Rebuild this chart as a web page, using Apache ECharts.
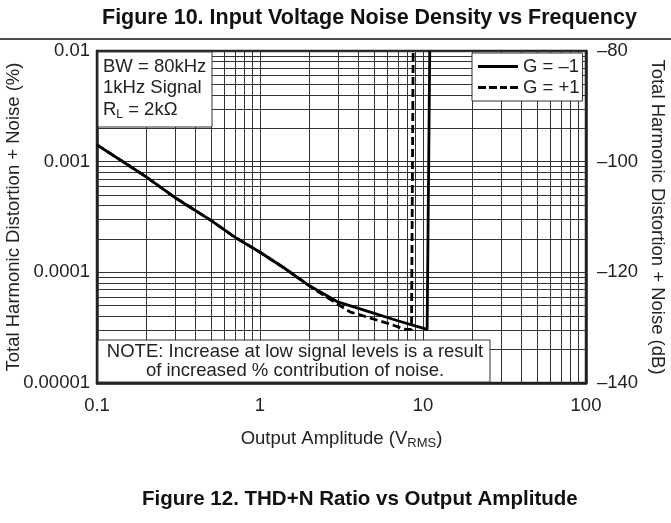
<!DOCTYPE html>
<html><head><meta charset="utf-8">
<script src="https://cdn.jsdelivr.net/npm/echarts@6/dist/echarts.min.js"></script>
<style>html,body{margin:0;padding:0;background:#fff}#c{width:671px;height:523px}</style>
</head><body><div id="c"></div>
<script>
// ---- data ----
const xTickLabels = ['0.1', '1', '10', '100'];
const yTickLabels = ['0.00001', '0.0001', '0.001', '0.01'];
const dbTicks = [-140, -120, -100, -80];
const solidX = [0.1, 0.2, 0.3, 0.5, 0.7, 1, 1.4, 2, 2.5, 3.0, 4.7, 7, 10.6, 11.0];
const solidY = [1.42e-3, 7.3e-4, 4.75e-4, 2.95e-4, 2.08e-4, 1.52e-4, 1.1e-4, 7.6e-5, 6.3e-5, 5.4e-5, 4.4e-5, 3.65e-5, 3.05e-5, 1e-2];
const dashX = [0.1, 0.2, 0.3, 0.5, 0.7, 1, 1.4, 2, 2.3, 3.56, 6.3, 7.8, 8.5, 8.7];
const dashY = [1.42e-3, 7.3e-4, 4.75e-4, 2.95e-4, 2.08e-4, 1.52e-4, 1.1e-4, 7.6e-5, 6.6e-5, 4.4e-5, 3.4e-5, 3.05e-5, 3.05e-5, 1e-2];
const gridX = [0.2,0.3,0.4,0.5,0.6,0.7,0.8,0.9, 2,3,4,5,6,7,8,9, 20,30,40,50,60,70,80,90];
const gridY = [2e-5,3e-5,4e-5,5e-5,6e-5,7e-5,8e-5,9e-5, 2e-4,3e-4,4e-4,5e-4,6e-4,7e-4,8e-4,9e-4, 2e-3,3e-3,4e-3,5e-3,6e-3,7e-3,8e-3,9e-3];
const seriesNames = ['G = \u20131', 'G = +1'];

const FONT = 'Liberation Sans, Arial, sans-serif';
const FS = 18.5;
const TXT = '#222';
const chart = echarts.init(document.getElementById('c'));
const zip = (a, b) => a.map((v, i) => [v, b[i]]);
const idx = v => Math.round(Math.log10(v));
const X0 = 0.1, X1 = 100, Y0 = 1e-5, Y1 = 1e-2;

const gridLines = gridX.map(v => [{ coord: [v, Y0] }, { coord: [v, Y1] }])
  .concat(gridY.map(v => [{ coord: [X0, v] }, { coord: [X1, v] }]));

// legend icons: a solid bar and a row of dashes
const ICON_SOLID = 'path://M0,0h40v3h-40z';
const ICON_DASH = 'path://M0,0h8v3h-8z M11,0h8v3h-8z M22,0h7v3h-7z M32,0h8v3h-8z';

chart.setOption({
  animation: false,
  textStyle: { fontFamily: FONT, color: TXT },
  title: [
    { text: 'Figure 10. Input Voltage Noise Density vs Frequency', left: 97, top: 2,
      textStyle: { fontFamily: FONT, fontSize: 21.5, fontWeight: 'bold', color: '#111' } },
    { text: 'Figure 12. THD+N Ratio vs Output Amplitude', left: 137, top: 484,
      textStyle: { fontFamily: FONT, fontSize: 20.5, fontWeight: 'bold', color: '#111' } }
  ],
  grid: { left: 97, right: 85, top: 51, bottom: 140, show: true, borderColor: '#222', borderWidth: 2.5,
    backgroundColor: 'transparent', containLabel: false, outerBoundsMode: 'none' },
  legend: {
    data: [{ name: seriesNames[0], icon: ICON_SOLID }, { name: seriesNames[1], icon: ICON_DASH }],
    orient: 'vertical', left: 472, top: 53, z: 20,
    backgroundColor: '#fff', borderColor: '#333', borderWidth: 1,
    padding: [3, 3, 3, 6], itemGap: 0, itemWidth: 40, itemHeight: 3,
    textStyle: { fontFamily: FONT, fontSize: FS, color: TXT, lineHeight: 21 }
  },
  xAxis: {
    type: 'log', logBase: 10, min: X0, max: X1,
    name: '{a|Output Amplitude (V}{b|RMS}{a|)}', nameLocation: 'middle', nameGap: 44, nameMoveOverlap: false,
    nameTextStyle: { rich: { a: { fontFamily: FONT, fontSize: FS, color: TXT }, b: { fontFamily: FONT, fontSize: 13, color: TXT, padding: [10, 0, 0, 0] } } },
    axisLine: { show: true, lineStyle: { color: '#222', width: 2.5 } },
    axisTick: { show: false },
    axisLabel: { fontSize: FS, color: TXT, margin: 13, formatter: v => xTickLabels[idx(v) + 1] },
    splitLine: { show: true, lineStyle: { color: '#333', width: 1 } }
  },
  yAxis: [
    { type: 'log', logBase: 10, min: Y0, max: Y1,
      name: 'Total Harmonic Distortion + Noise (%)', nameLocation: 'middle', nameGap: 74, nameRotate: 90, nameMoveOverlap: false,
      nameTextStyle: { fontSize: FS, color: TXT },
      axisLine: { show: true, lineStyle: { color: '#222', width: 2.5 } },
      axisTick: { show: false },
      axisLabel: { fontSize: FS, color: TXT, margin: 7, formatter: v => yTickLabels[idx(v) + 5] },
      splitLine: { show: true, lineStyle: { color: '#333', width: 1 } } },
    { type: 'value', min: dbTicks[0], max: dbTicks[dbTicks.length - 1], interval: 20, position: 'right',
      name: 'Total Harmonic Distortion + Noise (dB)', nameLocation: 'middle', nameGap: 62, nameRotate: -90, nameMoveOverlap: false,
      nameTextStyle: { fontSize: FS, color: TXT },
      axisLine: { show: true, lineStyle: { color: '#222', width: 2.5 } },
      axisTick: { show: false },
      axisLabel: { fontSize: FS, color: TXT, margin: 11, formatter: v => String(v).replace('-', '\u2013') },
      splitLine: { show: false } }
  ],
  series: [
    { name: 'gridlines', type: 'line', data: [[1, 1e-4]], z: 1, silent: true, symbol: 'none',
      lineStyle: { opacity: 0 },
      markLine: { silent: true, symbol: ['none', 'none'], label: { show: false }, animation: false,
        lineStyle: { color: '#333', width: 1, type: 'solid' }, data: gridLines } },
    { name: seriesNames[0], type: 'line', data: zip(solidX, solidY), symbol: 'none', z: 5, clip: true,
      lineStyle: { color: '#000', width: 2.8, type: 'solid' }, itemStyle: { color: '#000' } },
    { name: seriesNames[1], type: 'line', data: zip(dashX, dashY), symbol: 'none', z: 5, clip: true,
      lineStyle: { color: '#000', width: 2.8, type: [8, 4] }, itemStyle: { color: '#000' } }
  ],
  graphic: [
    { type: 'line', shape: { x1: 0, y1: 39, x2: 671, y2: 39 }, style: { stroke: '#111', lineWidth: 1.5 }, z: 10 },
    { type: 'rect', shape: { x: 98, y: 52, width: 114, height: 75 }, style: { fill: '#fff', stroke: '#333', lineWidth: 1 }, z: 10 },
    { type: 'text', left: 103, top: 56, z: 11,
      style: { text: 'BW = 80kHz\n1kHz Signal\n{a|R}{s|L}{a| = 2k\u03a9}', rich: { a: { fontFamily: FONT, fontSize: FS, fill: TXT }, s: { fontFamily: FONT, fontSize: 12, fill: TXT, padding: [9, 0, 0, 0] } },
        fontFamily: FONT, fontSize: FS, fill: TXT, lineHeight: 21.5 } },
    { type: 'rect', shape: { x: 98, y: 340, width: 392, height: 42 }, style: { fill: '#fff', stroke: '#333', lineWidth: 1 }, z: 10 },
    { type: 'text', x: 295, y: 342, z: 11,
      style: { text: 'NOTE: Increase at low signal levels is a result\nof increased % contribution of noise.', align: 'center',
        fontFamily: FONT, fontSize: FS, fill: TXT, lineHeight: 19.5 } }
  ]
});
</script></body></html>
